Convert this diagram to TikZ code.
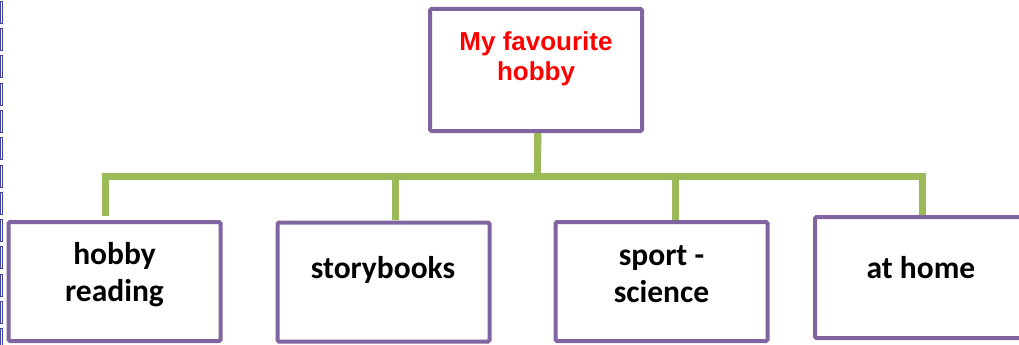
\documentclass[tikz,border=0pt]{standalone}
\usepackage{fontspec}
\usepackage{xcolor}
\newfontfamily\titlefont{Liberation Sans}
\newfontfamily\leaffont{Carlito}
\definecolor{boxpurple}{HTML}{8064A2}
\definecolor{stemgreen}{HTML}{9BBB59}
\definecolor{markblue}{HTML}{3F3F9F}
\tikzset{
  hobbybox/.style={draw=boxpurple, line width=4pt, fill=white, rounded corners=1.5pt,
    minimum width=212pt, minimum height=119pt, inner sep=0pt},
  titletext/.style={text=red, align=center, inner sep=0pt,
    font=\titlefont\bfseries\fontsize{26}{30}\selectfont},
  leaftext/.style={text=black, align=center, inner sep=0pt,
    font=\leaffont\bfseries\fontsize{31.5}{37}\selectfont},
  stem/.style={draw=stemgreen, line width=7pt, line join=miter},
  stemshadow/.style={draw=black!18, line width=7pt, line join=miter},
  pagemark/.style={draw=markblue, line width=0.6pt}
}
\begin{document}
\begin{tikzpicture}[x=1pt,y=-1pt]
\useasboundingbox (0,0) rectangle (1019,345);
\foreach \k in {0,...,12}
  \draw[pagemark] (0.5,{1+27.3*\k}) rectangle (2.3,{23+27.3*\k});
\coordinate (bus) at (537,176);
\coordinate (b1) at (105,216);
\coordinate (b2) at (395,220);
\coordinate (b3) at (675,222);
\coordinate (b4) at (922,216);
\begin{scope}[xshift=1.5pt,yshift=-2pt]
\draw[stemshadow] (537,132) -- (bus);
\draw[stemshadow] (b1) -- (b1 |- bus) -- (b4 |- bus) -- (b4);
\draw[stemshadow] (b2) -- (b2 |- bus);
\draw[stemshadow] (b3) -- (b3 |- bus);
\end{scope}
\node[hobbybox, minimum height=122pt] (top) at (536,70) {};
\node[titletext] (toptext) at (536,59) {My favourite\\hobby};
\draw[stem] (top.south -| bus) -- (bus);
\draw[stem] (b1) -- (b1 |- bus) -- (b4 |- bus) -- (b4);
\draw[stem] (b2) -- (b2 |- bus);
\draw[stem] (b3) -- (b3 |- bus);
\node[hobbybox] (reading) at (114.5,281.5) {};
\node[hobbybox] (story) at (383.5,282) {};
\node[hobbybox] (sport) at (661.5,281.5) {};
\node[hobbybox, minimum height=121pt] (home) at (921,277.5) {};
\node[leaftext] (readingtext) at (114.5,275) {hobby\\reading};
\node[leaftext] (storytext) at (383,270) {storybooks};
\node[leaftext] (sporttext) at (661.5,274) {sport -\\science};
\node[leaftext] (hometext) at (921,268) {at home};
\end{tikzpicture}
\end{document}
